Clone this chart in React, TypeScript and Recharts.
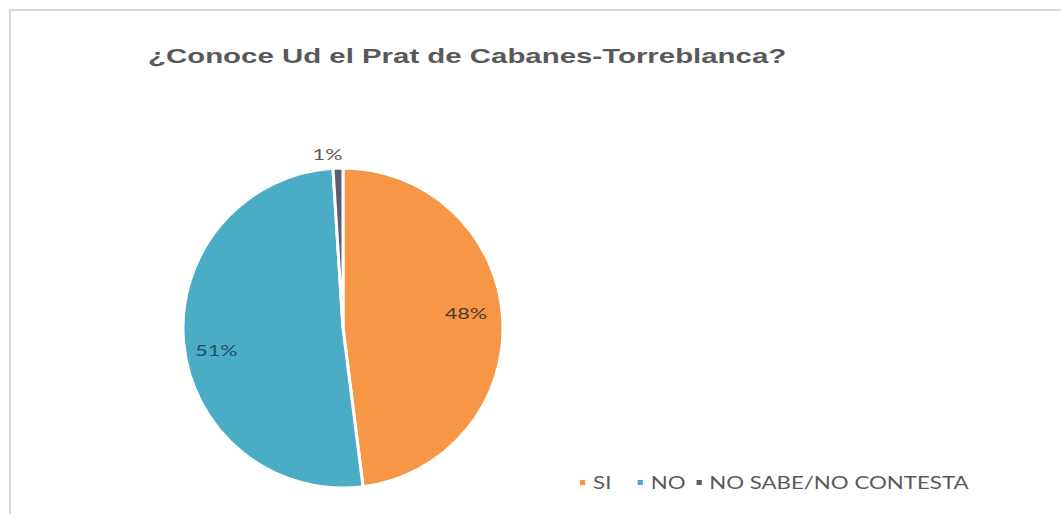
import { PieChart, Pie, Cell, Legend } from "recharts";

const categories = ["SI", "NO", "NO SABE/NO CONTESTA"];
const percentages = [48, 51, 1];
const sliceColors = ["#F79646", "#4BACC6", "#5F5A6E"];
const labelColors = ["#4a3a2a", "#1f4f63", "#595959"];

const pieData = categories.map((name, i) => ({ name, value: percentages[i] }));

const RADIAN = Math.PI / 180;
// the source picture is stretched sideways, so text is widened to match
const STRETCH = 1.35;

const renderLabel = (props: any) => {
  const { cx, cy, midAngle, outerRadius, index, value } = props;
  // big slices get the label inside, the tiny one sits just outside
  const r = index === 2 ? outerRadius + 14 : outerRadius * 0.77;
  let x = cx + r * Math.cos(-midAngle * RADIAN);
  let y = cy + r * Math.sin(-midAngle * RADIAN);
  if (index === 0) y -= 8;
  if (index === 1) {
    y += 10;
    x -= 4;
  }
  if (index === 2) x -= 10;
  return (
    <text
      transform={`translate(${x},${y}) scale(${STRETCH},1)`}
      fill={labelColors[index]}
      textAnchor="middle"
      dominantBaseline="central"
      fontSize={16}
      fontFamily="Lato, sans-serif"
    >
      {`${value}%`}
    </text>
  );
};

const legendGaps = [20, 8, 0];

const renderLegend = () => (
  <div
    style={{
      display: "flex",
      alignItems: "center",
      fontFamily: "Lato, sans-serif",
      fontSize: 17,
      color: "#595959",
      transform: `scaleX(1.31)`,
      transformOrigin: "left center",
      whiteSpace: "nowrap",
    }}
  >
    {categories.map((name, i) => (
      <span key={name} style={{ display: "inline-flex", alignItems: "center", marginRight: legendGaps[i] }}>
        <span style={{ width: 4, height: 5, background: sliceColors[i], marginRight: 6, display: "inline-block" }} />
        {name}
      </span>
    ))}
  </div>
);

export default function App() {
  return (
    <div style={{ position: "absolute", left: 0, top: 0, width: 1061, height: 514, background: "#fff", overflow: "hidden" }}>
      <div
        style={{
          position: "absolute",
          left: 9,
          top: 9,
          width: 1060,
          height: 510,
          borderTop: "2px solid #d9d9d9",
          borderLeft: "2px solid #d9d9d9",
        }}
      />
      <div
        style={{
          position: "absolute",
          left: 148,
          top: 44,
          fontFamily: "'Liberation Sans', Arial, sans-serif",
          fontWeight: "bold",
          fontSize: 21,
          color: "#595959",
          whiteSpace: "nowrap",
          transform: "scaleX(1.4)",
          transformOrigin: "left center",
        }}
      >
        ¿Conoce Ud el Prat de Cabanes-Torreblanca?
      </div>
      <PieChart
        width={1061}
        height={514}
        margin={{ top: 0, right: 0, bottom: 0, left: 0 }}
        style={{ position: "absolute", left: 0, top: 0 }}
      >
        <Pie
          data={pieData}
          dataKey="value"
          nameKey="name"
          cx={343}
          cy={328}
          outerRadius={160}
          startAngle={90}
          endAngle={-270}
          stroke="#ffffff"
          strokeWidth={3}
          label={renderLabel}
          labelLine={false}
          isAnimationActive={false}
        >
          {pieData.map((_, i) => (
            <Cell key={i} fill={sliceColors[i]} />
          ))}
        </Pie>
        <Legend
          content={renderLegend}
          wrapperStyle={{ position: "absolute", left: 580, top: 472, width: 460 }}
        />
      </PieChart>
    </div>
  );
}
